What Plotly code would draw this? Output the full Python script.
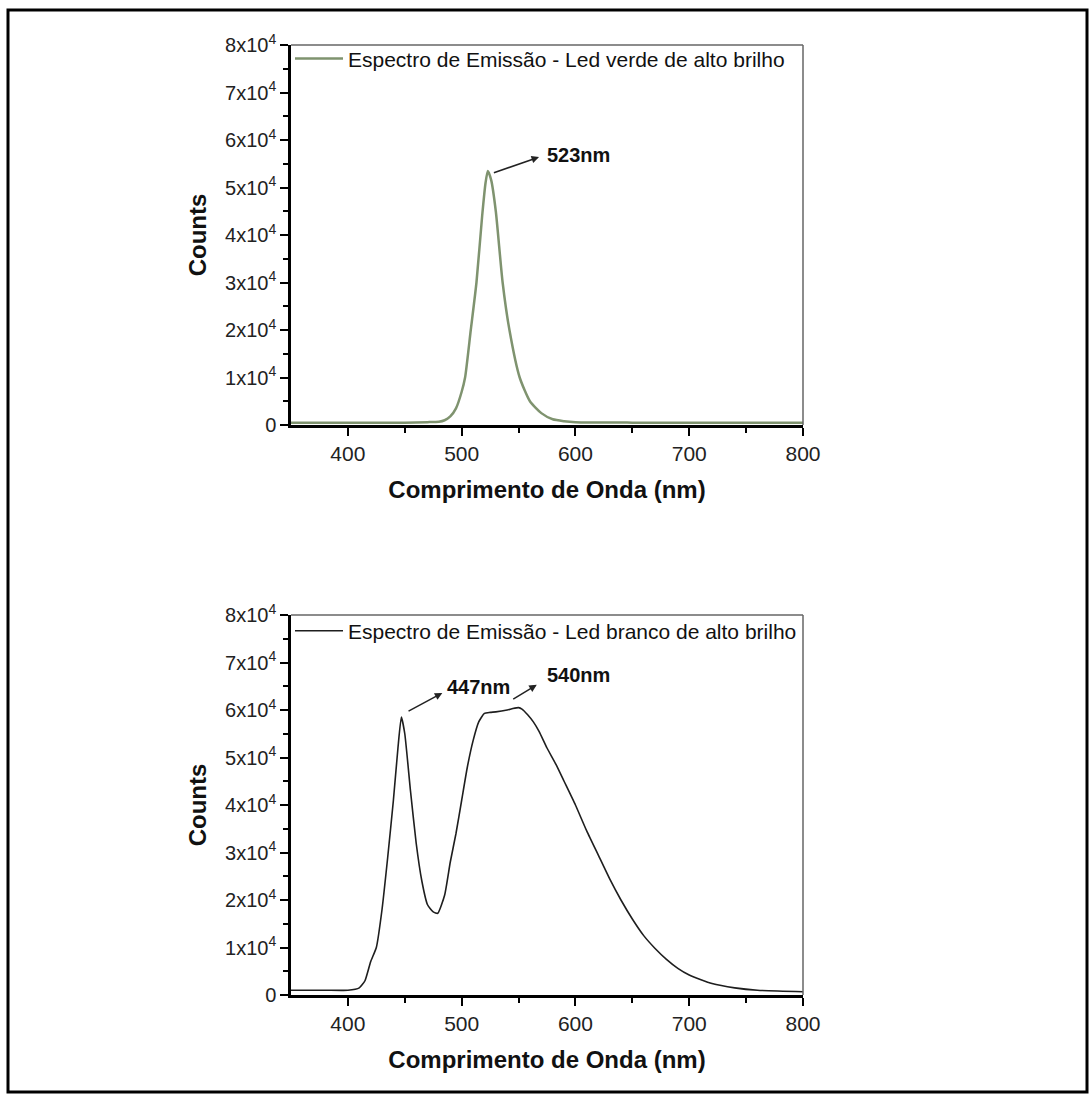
import plotly.graph_objects as go

# ---- data ----
green_nm = [350, 380, 400, 430, 450, 470, 480, 485, 490, 495, 500, 503, 508, 513, 518, 521, 523,
            526, 530, 536, 542, 551, 560, 570, 580, 590, 600, 650, 700, 750, 800]
green_counts = [500, 500, 500, 500, 500, 600, 700, 1000, 1800, 3500, 7000, 10000, 20000, 30000,
                44000, 51000, 53500, 51500, 45000, 30000, 20000, 10000, 5000, 2500, 1200, 800,
                600, 500, 500, 500, 500]

white_nm = [350, 380, 400, 410, 415, 420, 425, 430, 435, 440, 444, 447, 450, 455, 460, 465, 470,
            475, 479, 485, 490, 495, 500, 505, 510, 515, 520, 525, 530, 540, 545, 550, 553, 558,
            563, 568, 575, 583, 590, 600, 610, 620, 630, 640, 650, 660, 670, 680, 690, 700, 720,
            740, 760, 800]
white_counts = [1000, 1000, 1000, 1500, 3000, 7000, 10000, 18000, 29000, 41000, 52000, 58500,
                55000, 43000, 32000, 24000, 19000, 17500, 17200, 21000, 28000, 34000, 41000, 48000,
                53500, 57500, 59300, 59500, 59600, 60000, 60300, 60500, 60200, 59000, 57500, 55500,
                52000, 48500, 45000, 40000, 34500, 29500, 24500, 20000, 16000, 12500, 9800, 7500,
                5600, 4200, 2400, 1500, 1000, 700]

y_tickvals = [0, 10000, 20000, 30000, 40000, 50000, 60000, 70000, 80000]
y_ticktext = ["0"] + [f"{i}x10<sup>4</sup>" for i in range(1, 9)]
x_tickvals = [400, 500, 600, 700, 800]

green_label = "Espectro de Emissão - Led verde de alto brilho"
white_label = "Espectro de Emissão - Led branco de alto brilho"
x_title = "Comprimento de Onda (nm)"
y_title = "Counts"

FONT = "Liberation Sans, Arial, sans-serif"

fig = go.Figure()
fig.add_trace(go.Scatter(x=green_nm, y=green_counts, mode="lines", name=green_label,
                         line=dict(color="#7f936f", width=2.5, shape="spline", smoothing=0.6),
                         legend="legend", xaxis="x", yaxis="y"))
fig.add_trace(go.Scatter(x=white_nm, y=white_counts, mode="lines", name=white_label,
                         line=dict(color="#1e1e1e", width=1.6, shape="spline", smoothing=0.5),
                         legend="legend2", xaxis="x2", yaxis="y2"))

xdom = [291 / 1092, 803 / 1092]
ydom_top = [1 - 425 / 1098, 1 - 45 / 1098]
ydom_bot = [1 - 995 / 1098, 1 - 615 / 1098]

xcommon = dict(range=[350, 800], domain=xdom, tickvals=x_tickvals, ticks="outside", ticklen=8,
               tickwidth=2, tickcolor="black", showline=True, linecolor="black", linewidth=2.5,
               showgrid=False, zeroline=False, automargin=False,
               minor=dict(tickvals=[450, 550, 650, 750], ticks="outside", ticklen=5, tickwidth=1.5,
                          tickcolor="black", showgrid=False),
               tickfont=dict(family=FONT, size=21, color="#222"),
               title=dict(text=f"<b>{x_title}</b>", font=dict(family=FONT, size=24, color="#111"),
                          standoff=18))
ycommon = dict(range=[0, 80000], tickvals=y_tickvals, ticktext=y_ticktext, ticks="outside",
               ticklen=8, tickwidth=2, tickcolor="black", showline=True, linecolor="black",
               linewidth=2.5, showgrid=False, zeroline=False, automargin=False,
               minor=dict(tickvals=[5000, 15000, 25000, 35000, 45000, 55000, 65000, 75000],
                          ticks="outside", ticklen=5, tickwidth=1.5, tickcolor="black",
                          showgrid=False),
               tickfont=dict(family=FONT, size=20, color="#222"),
               title=dict(text=f"<b>{y_title}</b>", font=dict(family=FONT, size=24, color="#111"),
                          standoff=12))

legend_common = dict(x=290 / 1092, xanchor="left", yanchor="top", bgcolor="rgba(0,0,0,0)",
                     borderwidth=0, itemwidth=48,
                     font=dict(family=FONT, size=21, color="#111"))

fig.update_layout(
    template="none",
    width=1092, height=1098, autosize=False, margin=dict(l=0, r=0, t=0, b=0, pad=0),
    paper_bgcolor="white", plot_bgcolor="white",
    xaxis=dict(**xcommon, anchor="y"),
    yaxis=dict(**ycommon, domain=ydom_top, anchor="x"),
    xaxis2=dict(**xcommon, anchor="y2"),
    yaxis2=dict(**ycommon, domain=ydom_bot, anchor="x2"),
    legend=dict(**legend_common, y=ydom_top[1] + 0.006),
    legend2=dict(**legend_common, y=ydom_bot[1] + 0.004),
    showlegend=True,
)

# box (top / right) lines, thin grey
for xr, yr in (("x", "y"), ("x2", "y2")):
    fig.add_shape(type="line", xref=f"{xr} domain", yref=f"{yr} domain", x0=0, x1=1, y0=1, y1=1,
                  line=dict(color="#666", width=1.5))
    fig.add_shape(type="line", xref=f"{xr} domain", yref=f"{yr} domain", x0=1, x1=1, y0=0, y1=1,
                  line=dict(color="#666", width=1.5))

# outer frame
fig.add_shape(type="rect", xref="paper", yref="paper", x0=8 / 1092, x1=1087 / 1092,
              y0=1 - 1092 / 1098, y1=1 - 10 / 1098, line=dict(color="black", width=3))

# peak annotations (arrow from peak to label)
ann_font = dict(family=FONT, size=20, color="#111")
peaks = [
    ("x", "y", 527, 53000, 568, 56400, 573, 56800, "523nm"),
    ("x2", "y2", 452, 59600, 483, 63600, 485, 64800, "447nm"),
    ("x2", "y2", 544, 62100, 566, 65300, 573, 67400, "540nm"),
]
for xr, yr, px, py, hx, hy, tx, ty, txt in peaks:
    fig.add_annotation(xref=xr, yref=yr, axref=xr, ayref=yr, x=hx, y=hy, ax=px, ay=py, text="",
                       showarrow=True, arrowhead=2, arrowsize=1, arrowwidth=1.5,
                       arrowcolor="#222")
    fig.add_annotation(xref=xr, yref=yr, x=tx, y=ty, text=f"<b>{txt}</b>", showarrow=False,
                       xanchor="left", yanchor="middle", font=ann_font)

fig.write_html("out.html")
